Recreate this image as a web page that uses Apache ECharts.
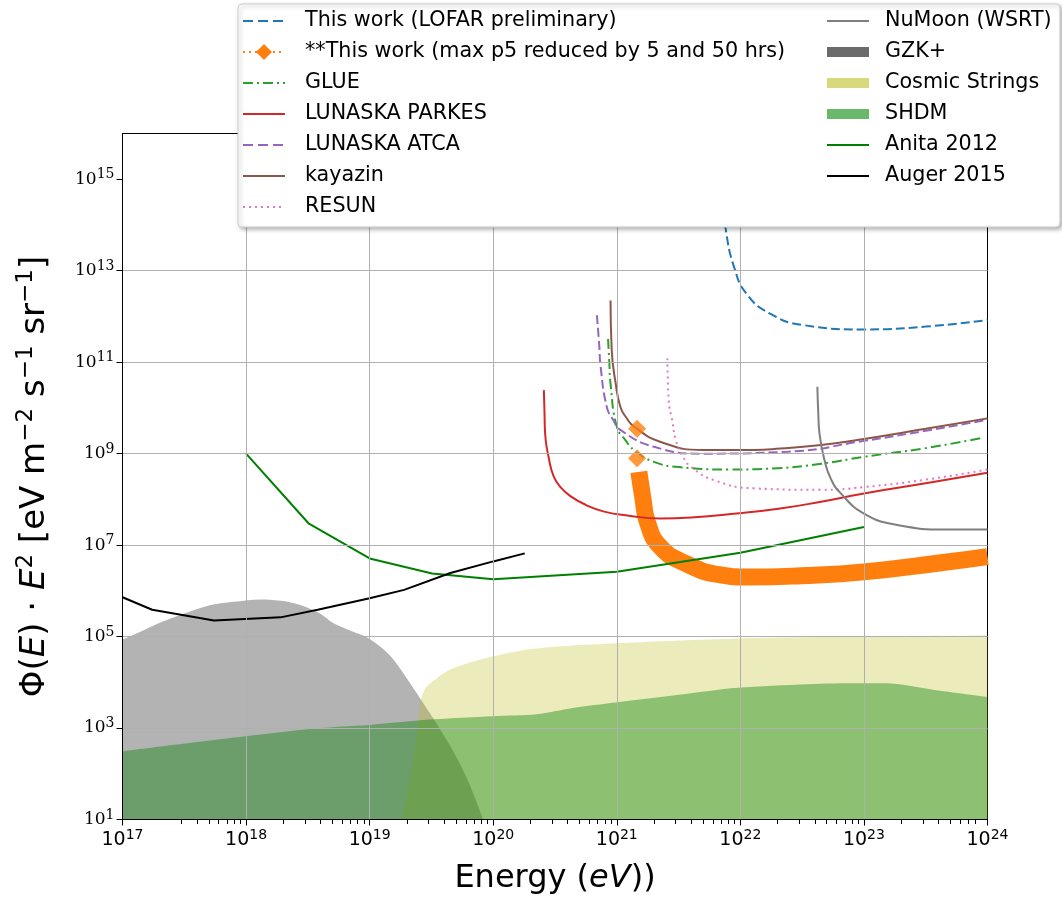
<!DOCTYPE html>
<html><head><meta charset="utf-8">
<script src="https://cdn.jsdelivr.net/npm/echarts@6.0.0/dist/echarts.min.js"></script>
<style>html,body{margin:0;padding:0;background:#fff}#c{width:1062px;height:902px}</style>
</head><body><div id="c"></div>
<script>
// ---- tick labels (exponents of 10) ----
const xTickExps = [17, 18, 19, 20, 21, 22, 23, 24];
const yTickExps = [1, 3, 5, 7, 9, 11, 13, 15];

// ---- series data: [Energy eV, Phi*E^2] ----
const lofar = [[7.2e21,4e14],[7.6e21,8.3e13],[8.9e21,1.2e13],[1.12e22,3.16e12],[1.74e22,1.15e12],[3.2e22,6.5e11],[1e23,5.2e11],[3.16e23,6.0e11],[1e24,8.3e11]];
const orangeTop = [[1.46e21,3.5e9],[1.46e21,7.9e8]];
const orangeBand = [[1.51e21,4.0e8],[1.62e21,1.15e8],[1.78e21,3.0e7],[2.24e21,9.3e6],[3.5e21,4.1e6],[6.9e21,2.24e6],[1.2e22,2.0e6],[3.1e22,2.14e6],[1e23,2.6e6],[4.2e23,4.1e6],[1e24,5.6e6]];
const glue = [[8.5e20,3.2e11],[8.7e20,1e11],[8.9e20,3.4e10],[1e21,3.9e9],[1.17e21,2.0e9],[1.38e21,1.2e9],[2.0e21,6.6e8],[3.16e21,5.1e8],[8.1e21,4.5e8],[2.0e22,4.8e8],[4.5e22,6.0e8],[1e23,8.5e8],[3.16e23,1.32e9],[9.3e23,2.24e9]];
const parkes = [[2.57e20,2.45e10],[2.6e20,7.9e9],[2.63e20,2.75e9],[2.82e20,7.9e8],[3.09e20,3.16e8],[3.55e20,1.78e8],[4.27e20,1.15e8],[5.6e20,7.6e7],[7.9e20,5.4e7],[1.26e21,4.4e7],[2.24e21,3.8e7],[4.0e21,4.0e7],[9.3e21,4.9e7],[2.1e22,6.3e7],[4.5e22,8.9e7],[1e23,1.35e8],[3.16e23,2.24e8],[1e24,3.8e8]];
const atca = [[6.9e20,1.07e12],[7.2e20,2.5e11],[7.4e20,7.9e10],[8.3e20,1.05e10],[9.3e20,5.6e9],[1.07e21,3.3e9],[2.0e21,1.41e9],[5.0e21,1.0e9],[2.4e22,1.1e9],[1e23,1.9e9],[3.16e23,3.16e9],[1e24,5.5e9]];
const kayazin = [[8.9e20,2.24e12],[9.1e20,1.82e11],[9.8e20,3.4e10],[1.07e21,1.05e10],[1.2e21,6.0e9],[1.38e21,3.9e9],[2.24e21,1.82e9],[5.0e21,1.2e9],[1.29e22,1.2e9],[2.1e22,1.29e9],[4.5e22,1.55e9],[1e23,2.1e9],[3.16e23,3.5e9],[1e24,5.9e9]];
const resun = [[2.57e21,1.2e11],[2.63e21,1.48e10],[2.82e21,5e9],[3.0e21,2.0e9],[3.4e21,8.9e8],[4.0e21,5.1e8],[6.2e21,2.6e8],[1.29e22,1.74e8],[4.5e22,1.62e8],[1e23,1.86e8],[3.16e23,2.7e8],[1e24,4.5e8]];
const numoon = [[4.2e22,2.9e10],[4.27e22,7.9e9],[4.37e22,2.75e9],[4.8e22,7.2e8],[5.4e22,2.8e8],[6.5e22,1.35e8],[1e23,4.9e7],[1.86e23,2.75e7],[4.7e23,2.2e7],[1e24,2.2e7]];
const gzk = [[1e17,8.5e4],[1.26e17,1.12e5],[2.0e17,2.0e5],[3.16e17,3.2e5],[5.0e17,4.8e5],[7.9e17,5.75e5],[1.32e18,6.5e5],[2.0e18,6.0e5],[2.75e18,4.9e5],[4.0e18,3.16e5],[5.1e18,1.95e5],[7.1e18,1.32e5],[1e19,8.9e4],[1.48e19,3.7e4],[2.4e19,5.8e3],[4.5e19,400],[6.2e19,74],[8.3e19,10]];
const cosmic = [[1.82e19,10],[2.3e19,280],[2.57e19,3.5e3],[2.8e19,7.1e3],[3.1e19,9.5e3],[4.5e19,1.9e4],[1e20,3.7e4],[2.24e20,5.5e4],[9.8e20,7.1e4],[9.5e21,9.1e4],[9.3e22,1e5],[1e24,1.05e5]];
const shdm = [[1e17,310],[9.8e17,660],[4.0e18,1000],[9.8e18,1170],[3.3e19,1550],[1e20,1820],[2.24e20,2000],[4.4e20,2750],[9.8e20,3600],[3.3e21,5400],[9.5e21,7600],[3.5e22,9100],[9.3e22,9500],[1.5e23,9500],[3.6e23,6900],[1e24,4800]];
const anita = [[1e18,1e9],[3.2e18,3.0e7],[1e19,5.1e6],[3.2e19,2.4e6],[1e20,1.8e6],[1e21,2.6e6],[1e22,6.8e6],[1e23,2.5e7]];
const auger = [[1e17,7.24e5],[1.74e17,3.85e5],[5.5e17,2.24e5],[1.9e18,2.63e5],[3.8e18,3.85e5],[1e19,6.9e5],[1.9e19,1.05e6],[4.5e19,2.45e6],[1e20,4.4e6],[1.8e20,6.6e6]];

// ---- layout / style ----
const FONT = 'DejaVu Sans';
// last tick nudged a hair inside the extent so log rounding does not drop it
const xTicks = xTickExps.map((e, i) => Math.pow(10, e) * (i === xTickExps.length - 1 ? 0.9999999 : 1));
const yTicks = yTickExps.map(e => Math.pow(10, e));
const xMinor = [];
for (let e = 17; e < 24; e++) for (let k = 2; k <= 9; k++) xMinor.push(k * Math.pow(10, e));
const expOf = v => Math.round(Math.log10(v));

function lineS(name, data, color, type, smooth, width) {
  return { name, type: 'line', data, symbol: 'none', smooth: smooth,
    lineStyle: { color, width: width || 2, type: type || 'solid' }, z: 5 };
}
function areaS(name, data, color) {
  return { name, type: 'line', data, symbol: 'none', smooth: 0.3, lineStyle: { width: 0, opacity: 0 },
    areaStyle: { color, origin: 'start', opacity: 1 }, z: 2 };
}

const series = [
  areaS('GZK+', gzk, 'rgba(128,128,128,0.6)'),
  areaS('Cosmic Strings', cosmic, 'rgba(188,189,34,0.3)'),
  areaS('SHDM', shdm, 'rgba(0,128,0,0.4)'),
  lineS('This work (LOFAR preliminary)', lofar, '#1f77b4', [9, 4], 0.5),
  { name: '**This work band', type: 'line', data: orangeBand, symbol: 'none', smooth: 0.5, lineStyle: { color: '#ff7f0e', width: 17, cap: 'butt', join: 'round' }, z: 5 },
  { name: '**This work (max p5 reduced by 5 and 50 hrs)', type: 'scatter', data: orangeTop, symbol: 'diamond', symbolSize: 18, itemStyle: { color: '#ff7f0e' }, z: 5 },
  lineS('GLUE', glue, '#2ca02c', [10, 4, 2, 4], 0.5),
  lineS('LUNASKA PARKES', parkes, '#d62728', 'solid', 0.5),
  lineS('LUNASKA ATCA', atca, '#9467bd', [9, 4], 0.5),
  lineS('kayazin', kayazin, '#8c564b', 'solid', 0.5),
  lineS('RESUN', resun, '#e377c2', [2, 4], 0.5),
  lineS('NuMoon (WSRT)', numoon, '#7f7f7f', 'solid', 0.5),
  lineS('Anita 2012', anita, '#008000', 'solid', false),
  lineS('Auger 2015', auger, '#000000', 'solid', false),
  // empty series that keeps the thin minor-tick strip grid alive
  { name: 'minorStrip', type: 'line', xAxisIndex: 1, yAxisIndex: 1, data: [], silent: true }
];

// ---- legend (drawn as graphics, matplotlib style) ----
const legendCol1 = [
  { text: 'This work (LOFAR preliminary)', kind: 'line', color: '#1f77b4', dash: [10, 5] },
  { text: '**This work (max p5 reduced by 5 and 50 hrs)', kind: 'marker', color: '#ff7f0e', dash: [2, 4] },
  { text: 'GLUE', kind: 'line', color: '#2ca02c', dash: [10, 4, 2, 4] },
  { text: 'LUNASKA PARKES', kind: 'line', color: '#d62728' },
  { text: 'LUNASKA ATCA', kind: 'line', color: '#9467bd', dash: [10, 5] },
  { text: 'kayazin', kind: 'line', color: '#8c564b' },
  { text: 'RESUN', kind: 'line', color: '#e377c2', dash: [2, 4] }
];
const legendCol2 = [
  { text: 'NuMoon (WSRT)', kind: 'line', color: '#7f7f7f' },
  { text: 'GZK+', kind: 'bar', color: '#6b6b6b' },
  { text: 'Cosmic Strings', kind: 'bar', color: '#d8d87c' },
  { text: 'SHDM', kind: 'bar', color: '#6ab86a' },
  { text: 'Anita 2012', kind: 'line', color: '#008000' },
  { text: 'Auger 2015', kind: 'line', color: '#000000' }
];
const gEls = [{ type: 'rect', shape: { x: 238, y: 4, width: 822, height: 223, r: 4 }, z: 100,
  style: { fill: '#fff', stroke: '#cfcfcf', lineWidth: 1, shadowBlur: 4, shadowOffsetX: 2, shadowOffsetY: 2, shadowColor: 'rgba(0,0,0,0.3)' } }];
function addCol(items, x0, xt) {
  items.forEach((it, i) => {
    const y = 21 + i * 31;
    if (it.kind === 'bar') {
      gEls.push({ type: 'rect', shape: { x: x0, y: y - 5, width: 42, height: 10 }, style: { fill: it.color }, z: 101 });
    } else {
      gEls.push({ type: 'line', shape: { x1: x0, y1: y, x2: x0 + 42, y2: y }, style: { stroke: it.color, lineWidth: 2, lineDash: it.dash || null }, z: 101 });
      if (it.kind === 'marker') {
        const c = x0 + 21;
        gEls.push({ type: 'polygon', shape: { points: [[c, y - 8], [c + 8, y], [c, y + 8], [c - 8, y]] }, style: { fill: it.color }, z: 102 });
      }
    }
    gEls.push({ type: 'text', x: xt, y: y, style: { text: it.text, fontSize: 20.7, fontFamily: FONT, fill: '#000', verticalAlign: 'middle' }, z: 101 });
  });
}
addCol(legendCol1, 243, 305);
addCol(legendCol2, 827, 885);

const axisLineBlack = { show: true, onZero: false, lineStyle: { color: '#000', width: 1 } };
const option = {
  animation: false,
  backgroundColor: '#fff',
  grid: [
    { left: 122.5, top: 133.5, width: 865, height: 686, show: true, borderColor: '#000', borderWidth: 1, backgroundColor: 'transparent' },
    { left: 122.5, top: 820, width: 865, height: 4, show: false }
  ],
  xAxis: [
    { type: 'log', logBase: 10, min: 1e17, max: 1e24, position: 'bottom', z: 10, gridIndex: 0,
      axisLine: axisLineBlack,
      axisTick: { show: true, customValues: xTicks, length: 6, lineStyle: { color: '#000' } },
      axisLabel: { customValues: xTicks, margin: 9, formatter: v => '{b|10}{s|' + expOf(v) + '}',
        rich: { b: { fontSize: 19, fontFamily: FONT, color: '#000', lineHeight: 24 },
                s: { fontSize: 14, fontFamily: FONT, color: '#000', lineHeight: 14, padding: [0, 0, 10, 0] } } },
      splitLine: { show: true, showMinLine: false, showMaxLine: false, lineStyle: { color: '#b0b0b0', width: 1 } },
      name: '{n|Energy (}{i|eV}{n|))}', nameLocation: 'middle', nameGap: 43,
      nameTextStyle: { rich: { n: { fontSize: 32, fontFamily: FONT, color: '#000' }, i: { fontSize: 32, fontFamily: FONT, fontStyle: 'italic', color: '#000' } } } },
    // minor ticks: split lines of a 4px-high strip grid just under the x axis
    { type: 'log', logBase: 10, min: 1e17, max: 1e24, gridIndex: 1, position: 'bottom',
      axisLine: { show: false }, axisLabel: { show: false },
      axisTick: { show: false, customValues: xMinor },
      splitLine: { show: true, showMinLine: false, showMaxLine: false, lineStyle: { color: '#000', width: 1 } } }
  ],
  yAxis: [
    { type: 'log', logBase: 10, min: 10, max: 1e16, position: 'left', z: 10, gridIndex: 0,
      axisLine: axisLineBlack,
      axisTick: { show: true, customValues: yTicks, length: 6, lineStyle: { color: '#000' } },
      axisLabel: { customValues: yTicks, margin: 8, formatter: v => '{b|10}{s|' + expOf(v) + '}',
        rich: { b: { fontSize: 17, fontFamily: 'DejaVu Serif', color: '#000', lineHeight: 22 },
                s: { fontSize: 14, fontFamily: 'DejaVu Serif', color: '#000', lineHeight: 14, padding: [0, 0, 9, 0] } } },
      splitLine: { show: true, showMinLine: false, showMaxLine: false, lineStyle: { color: '#b0b0b0', width: 1 } },
      name: '{n|Φ(}{i|E}{n|) · }{i|E}{s|2}{n| [eV m}{s|−2}{n| s}{s|−1}{n| sr}{s|−1}{n|]}',
      nameLocation: 'middle', nameRotate: 90, nameGap: 66,
      nameTextStyle: { rich: {
        n: { fontSize: 34, fontFamily: FONT, color: '#000', lineHeight: 42 },
        i: { fontSize: 34, fontFamily: FONT, fontStyle: 'italic', color: '#000', lineHeight: 42 },
        s: { fontSize: 23, fontFamily: FONT, color: '#000', lineHeight: 23, padding: [0, 0, 18, 0] } } } },
    { type: 'value', gridIndex: 1, min: 0, max: 1, show: false }
  ],
  series,
  graphic: { elements: gEls }
};
const chart = echarts.init(document.getElementById('c'), null, { renderer: 'canvas' });
chart.setOption(option);
</script></body></html>
